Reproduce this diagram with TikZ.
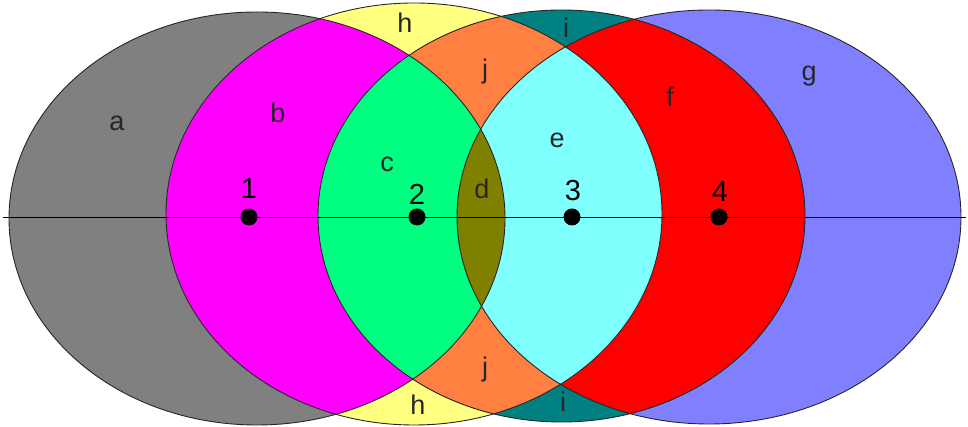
\documentclass[tikz,border=0pt]{standalone}
\usepackage{fontspec}
\setmainfont{Liberation Sans}
\definecolor{cgray}{HTML}{808080}
\definecolor{cmag}{HTML}{FF00FF}
\definecolor{cgreen}{HTML}{00FF80}
\definecolor{colive}{HTML}{808000}
\definecolor{ccyan}{HTML}{80FFFF}
\definecolor{cred}{HTML}{FF0000}
\definecolor{cblue}{HTML}{8080FF}
\definecolor{cyellow}{HTML}{FFFF80}
\definecolor{cteal}{HTML}{008080}
\definecolor{corange}{HTML}{FF8040}
\begin{document}
\begin{tikzpicture}[x=1pt,y=1pt,
  lbl/.style={font=\fontsize{27}{27}\selectfont, inner sep=0pt, text=black!85},
  numlbl/.style={font=\fontsize{29}{29}\selectfont, inner sep=0pt, text=black},
  dotnode/.style={circle, fill=black, inner sep=0pt, minimum size=17pt},
  outline/.style={draw=black!85, line width=0.9pt}]
\useasboundingbox (0,0) rectangle (968,427);
\def\EA{(257,208.5) ellipse [x radius=248, y radius=206.5]}
\def\EB{(414,213) ellipse [x radius=248, y radius=211]}
\def\EC{(561.5,211) ellipse [x radius=243.5, y radius=206]}
\def\ED{(709,210) ellipse [x radius=252, y radius=207]}
% base fills
\fill[cgray] \EA;
\fill[cblue] \ED;
\fill[cyellow] \EB;
\fill[cteal] \EC;
% intersections
\begin{scope}\clip \EA; \fill[cmag] \EB; \end{scope}
\begin{scope}\clip \ED; \fill[cred] \EC; \end{scope}
\begin{scope}\clip \EB; \fill[corange] \EC; \end{scope}
\begin{scope}\clip \EA; \clip \EB; \fill[cgreen] \EC; \end{scope}
\begin{scope}\clip \EB; \clip \EC; \fill[ccyan] \ED; \end{scope}
\begin{scope}\clip \EA; \fill[colive] \ED; \end{scope}
% outlines
\draw[outline] \EA;
\draw[outline] \EB;
\draw[outline] \EC;
\draw[outline] \ED;
% axis
\coordinate (L) at (3,210);
\coordinate (R) at (966,210);
\draw[black, line width=0.9pt] (L) -- (R);
% points
\node[dotnode] (p1) at (249,210) {};
\node[dotnode] (p2) at (417,210) {};
\node[dotnode] (p3) at (572,210) {};
\node[dotnode] (p4) at (719,210) {};
\node[numlbl] (n1) at (249,238) {1};
\node[numlbl] (n2) at (417,233) {2};
\node[numlbl] (n3) at (573,236) {3};
\node[numlbl] (n4) at (720,235) {4};
% region labels
\node[lbl] (la) at (117,304) {a};
\node[lbl] (lb) at (278,314) {b};
\node[lbl] (lc) at (387,263) {c};
\node[lbl] (ld) at (482,238) {d};
\node[lbl] (le) at (557,287) {e};
\node[lbl] (lf) at (670,330) {f};
\node[lbl] (lg) at (809,351) {g};
\node[lbl] (lh1) at (405,404) {h};
\node[lbl] (lh2) at (418,22) {h};
\node[lbl] (li1) at (566,399) {i};
\node[lbl] (li2) at (563,25) {i};
\node[lbl] (lj1) at (485,355) {j};
\node[lbl] (lj2) at (485,57) {j};
\end{tikzpicture}
\end{document}
